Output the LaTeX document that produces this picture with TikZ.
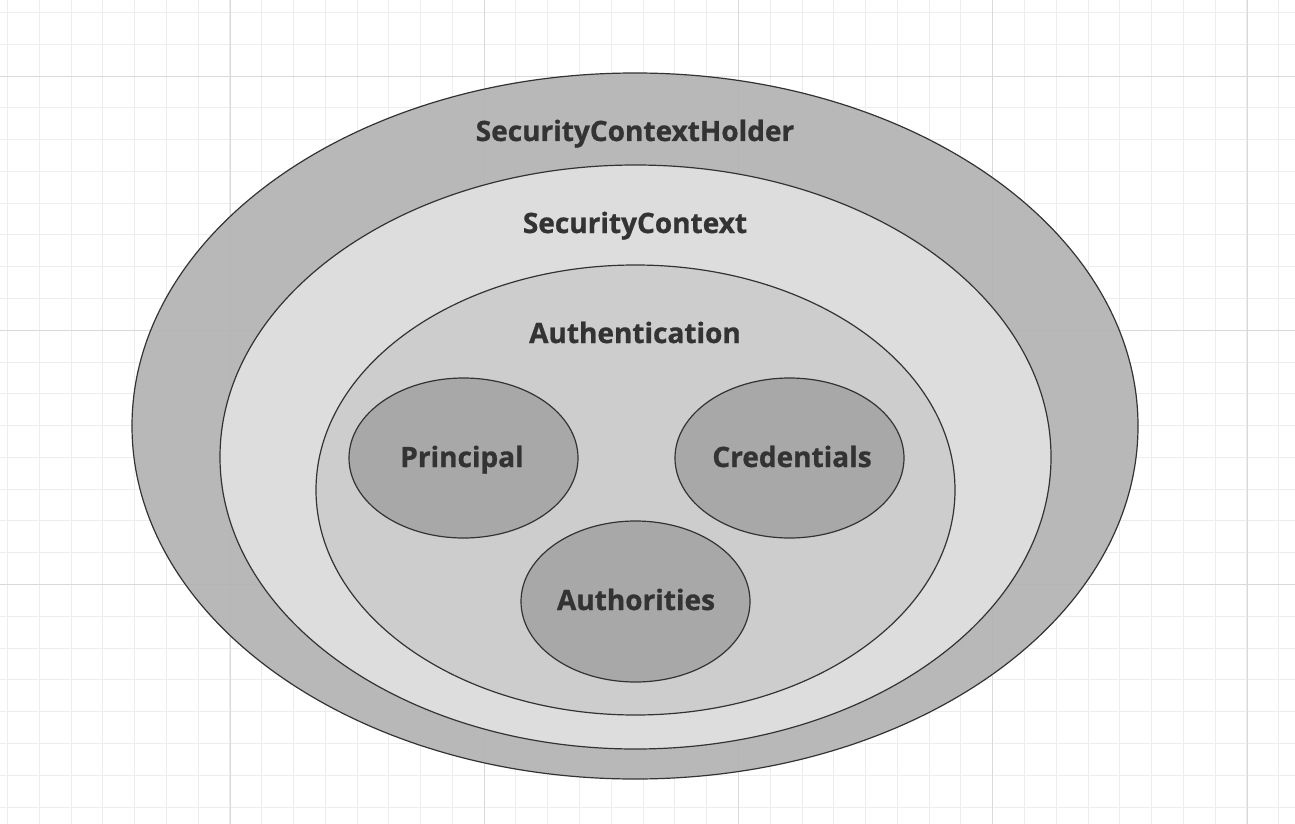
\documentclass[tikz,border=0pt]{standalone}
\usepackage{fontspec}
\setmainfont{Open Sans}
\newfontfamily\lblfont{Open Sans}[BoldFeatures={FakeBold=0.9}]
\usetikzlibrary{shapes.geometric}
\definecolor{minorgrid}{HTML}{EDEDED}
\definecolor{majorgrid}{HTML}{D9D9D9}
\definecolor{holderfill}{HTML}{B3B3B3}
\definecolor{ctxfill}{HTML}{E0E0E0}
\definecolor{authfill}{HTML}{CCCCCC}
\definecolor{itemfill}{HTML}{A6A6A6}
\definecolor{edge}{HTML}{333333}
\definecolor{txt}{HTML}{333333}
\tikzset{
  ring/.style={ellipse, draw=edge, line width=1.2pt, fill opacity=0.93, inner sep=0pt},
  lbl/.style={text=txt, font=\fontsize{28}{32}\selectfont\lblfont\bfseries, inner sep=0pt, anchor=base}
}
\begin{document}
\begin{tikzpicture}[x=1pt,y=-1pt]
\useasboundingbox (0,0) rectangle (1295,824);
\fill[white] (0,0) rectangle (1295,824);
% grid
\foreach \i in {0,...,40} {
  \draw[minorgrid, line width=0.8pt] ({7.4+31.78*\i},0) -- ({7.4+31.78*\i},824);
}
\foreach \i in {0,...,25} {
  \draw[minorgrid, line width=0.8pt] (0,{12.4+31.78*\i}) -- (1295,{12.4+31.78*\i});
}
\foreach \i in {0,...,4} {
  \draw[majorgrid, line width=0.9pt] ({230+254.25*\i},0) -- ({230+254.25*\i},824);
}
\foreach \i in {0,...,2} {
  \draw[majorgrid, line width=0.9pt] (0,{76+254.25*\i}) -- (1295,{76+254.25*\i});
}
% ellipses
\node[ring, fill=holderfill, minimum width=1006pt, minimum height=706pt] (holder) at (635,426) {};
\node[ring, fill=ctxfill, minimum width=831pt, minimum height=584pt] (ctx) at (635.5,457) {};
\node[ring, fill=authfill, minimum width=639pt, minimum height=450pt] (auth) at (635.5,490) {};
\node[ring, fill=itemfill, minimum width=229pt, minimum height=160pt] (principal) at (463.5,458) {};
\node[ring, fill=itemfill, minimum width=229pt, minimum height=160pt] (credentials) at (789.5,458) {};
\node[ring, fill=itemfill, minimum width=229pt, minimum height=161pt] (authorities) at (635.5,601.5) {};
% labels
\node[lbl] (tholder) at (635,141) {SecurityContextHolder};
\node[lbl] (tctx) at (635,233) {SecurityContext};
\node[lbl] (tauth) at (635,343) {Authentication};
\node[lbl] (tprincipal) at (462,467) {Principal};
\node[lbl] (tcredentials) at (792,467) {Credentials};
\node[lbl] (tauthorities) at (636,610) {Authorities};
\end{tikzpicture}
\end{document}
